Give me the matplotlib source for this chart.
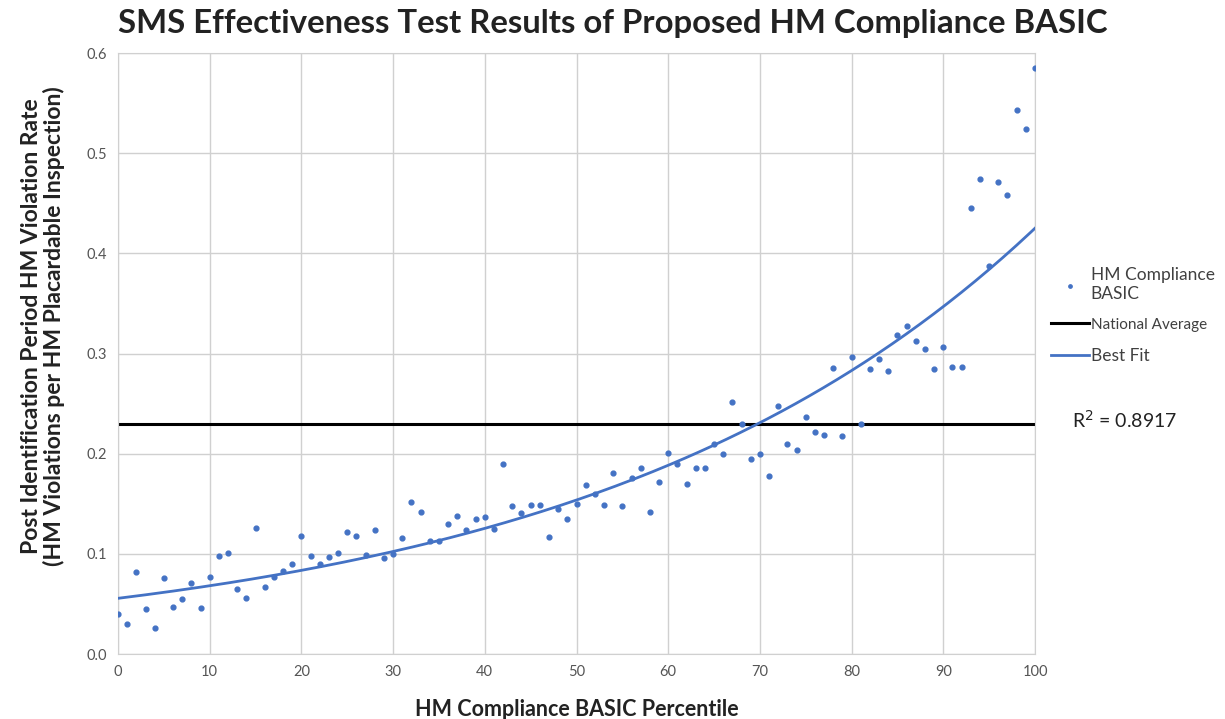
import numpy as np
import matplotlib.pyplot as plt

# --- data
percentile = list(range(0, 101))
violation_rate = [
    0.040, 0.030, 0.082, 0.045, 0.026, 0.076, 0.047, 0.055, 0.071, 0.046,
    0.077, 0.098, 0.101, 0.065, 0.056, 0.126, 0.067, 0.077, 0.083, 0.090,
    0.118, 0.098, 0.090, 0.097, 0.101, 0.122, 0.118, 0.099, 0.124, 0.096,
    0.100, 0.116, 0.152, 0.142, 0.113, 0.113, 0.130, 0.138, 0.124, 0.135,
    0.137, 0.125, 0.190, 0.148, 0.141, 0.149, 0.149, 0.117, 0.145, 0.135,
    0.150, 0.169, 0.160, 0.149, 0.181, 0.148, 0.176, 0.186, 0.142, 0.172,
    0.201, 0.190, 0.170, 0.186, 0.186, 0.210, 0.200, 0.252, 0.230, 0.195,
    0.200, 0.178, 0.248, 0.210, 0.204, 0.237, 0.222, 0.219, 0.286, 0.218,
    0.297, 0.230, 0.285, 0.295, 0.283, 0.318, 0.327, 0.312, 0.304, 0.285,
    0.306, 0.287, 0.287, 0.445, 0.474, 0.387, 0.471, 0.458, 0.543, 0.524,
    0.585,
]
national_average = 0.23
r2_text = "R$^2$ = 0.8917"

BLUE = "#4472C4"

x = np.array(percentile, dtype=float)
y = np.array(violation_rate)

# exponential trendline (fit on log y, like Excel)
b, ln_a = np.polyfit(x, np.log(y), 1)
xs = np.linspace(0, 100, 200)
fit = np.exp(ln_a) * np.exp(b * xs)

plt.rcParams["font.family"] = ["Lato", "DejaVu Sans"]

fig = plt.figure(figsize=(12.25, 7.19), dpi=100)
ax = fig.add_axes([118 / 1225, 1 - 654 / 719, (1035 - 118) / 1225, (654 - 53) / 719])

ax.scatter(x, y, s=12, color=BLUE, zorder=3, label="HM Compliance\nBASIC")
ax.axhline(national_average, color="black", lw=2.2, zorder=2, label="National Average")
ax.plot(xs, fit, color=BLUE, lw=2, zorder=4, label="Best Fit")

ax.set_xlim(0, 100)
ax.set_ylim(0, 0.6)
ax.set_xticks(range(0, 101, 10))
ax.set_yticks(np.arange(0, 0.61, 0.1))
ax.yaxis.set_major_formatter(plt.FormatStrFormatter("%.1f"))
ax.grid(True, color="#d0d0d0", lw=1)
ax.set_axisbelow(True)
for s in ax.spines.values():
    s.set_color("#d0d0d0")
ax.tick_params(length=0, labelsize=10.5, colors="#555555", pad=8)

fig.suptitle("SMS Effectiveness Test Results of Proposed HM Compliance BASIC",
             x=0.5, y=0.988, fontsize=23.7, fontweight="bold", color="#222222")
ax.set_xlabel("HM Compliance BASIC Percentile", fontsize=15.5, fontweight="bold",
              color="#222222", labelpad=14)
ax.set_ylabel("Post Identification Period HM Violation Rate\n(HM Violations per HM Placardable Inspection)",
              fontsize=16.5, fontweight="bold", color="#222222", linespacing=1.05)
ax.yaxis.set_label_coords(-0.058, 0.545)

leg = ax.legend(loc="upper left", bbox_to_anchor=(1.0, 0.67), frameon=False,
                fontsize=12.5, handlelength=2.2, labelspacing=0.9, handletextpad=0.1,
                markerscale=0.7)
for t in leg.get_texts():
    t.set_color("#404040")
leg.get_texts()[1].set_fontsize(11)

ax.text(1.04, (654 - 420) / 601, r2_text, transform=ax.transAxes, fontsize=14,
        color="#222222", va="center")

fig.savefig("out.png", dpi=100)
